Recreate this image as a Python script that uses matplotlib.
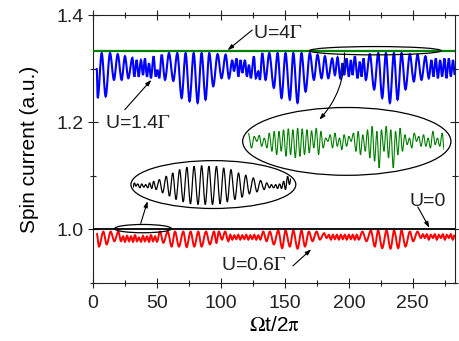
import matplotlib
matplotlib.use("Agg")
import matplotlib.pyplot as plt
from matplotlib.patches import Ellipse, PathPatch
from matplotlib.path import Path
from matplotlib.ticker import MultipleLocator

plt.rcParams['font.family'] = ['Liberation Sans', 'DejaVu Sans']
plt.rcParams['mathtext.fontset'] = 'stix'

# U=1.4 Gamma (blue): turning points
blue_t = [2.9, 3.7, 6.8, 9.9, 13.3, 16.4, 19.3, 22.4, 25.0, 27.6, 30.8, 32.3, 34.1, 35.7,
          37.5, 39.1, 40.6, 42.2, 43.8, 45.3, 47.4, 49.0, 50.3, 51.8, 53.7, 56.3, 59.4,
          62.8, 65.9, 69.3, 72.4, 75.5, 78.7, 81.8, 84.9, 88.0, 90.9, 94.0, 97.4, 100.5,
          103.7, 106.3, 108.9, 110.2, 112.3, 113.6, 115.4, 116.7, 118.8, 120.3, 121.9,
          123.4, 125.8, 127.3, 129.2, 130.5, 132.3, 134.9, 137.8, 141.4, 144.3, 147.4,
          150.5, 153.9, 156.6, 159.9, 163.0, 166.2, 169.5, 172.7, 175.5, 178.7, 181.3,
          183.9, 187.0, 189.1, 191.2, 193.3, 195.1, 196.4, 198.2, 200.0, 201.6, 202.9,
          204.7, 206.8, 208.6, 209.9, 211.5, 213.3, 216.4, 219.8, 223.0, 226.1, 229.0,
          232.1, 235.2, 238.1, 241.2, 244.3, 247.7, 250.8, 253.7, 256.8, 259.9, 262.5,
          264.6, 266.1, 268.0, 269.6, 271.4, 272.9, 274.8, 276.3, 278.2, 279.7, 281.5, 282.8]
blue_y = [1.301, 1.245, 1.329, 1.248, 1.329, 1.279, 1.327, 1.279, 1.323, 1.282, 1.320,
          1.285, 1.316, 1.285, 1.316, 1.288, 1.319, 1.285, 1.310, 1.282, 1.323, 1.285,
          1.298, 1.282, 1.326, 1.279, 1.329, 1.277, 1.329, 1.245, 1.329, 1.239, 1.329,
          1.236, 1.329, 1.242, 1.329, 1.267, 1.327, 1.282, 1.326, 1.282, 1.316, 1.295,
          1.319, 1.285, 1.316, 1.292, 1.316, 1.285, 1.307, 1.282, 1.323, 1.282, 1.295,
          1.279, 1.329, 1.279, 1.329, 1.264, 1.329, 1.245, 1.329, 1.242, 1.329, 1.236,
          1.329, 1.257, 1.329, 1.279, 1.326, 1.282, 1.323, 1.282, 1.319, 1.288, 1.321,
          1.282, 1.310, 1.288, 1.319, 1.285, 1.316, 1.288, 1.323, 1.282, 1.313, 1.285,
          1.319, 1.279, 1.327, 1.261, 1.329, 1.245, 1.329, 1.236, 1.329, 1.242, 1.329,
          1.261, 1.327, 1.276, 1.326, 1.279, 1.323, 1.282, 1.316, 1.285, 1.319, 1.282,
          1.316, 1.285, 1.319, 1.282, 1.319, 1.285, 1.316, 1.288]

# U=0.6 Gamma (red)
red_t = [2.9, 4.7, 8.1, 10.7, 13.8, 16.7, 19.8, 21.9, 23.5, 25.0, 26.6, 28.2, 29.7, 31.3,
         32.8, 34.4, 35.9, 37.5, 39.1, 40.6, 42.2, 43.8, 45.3, 46.9, 48.5, 50.0, 52.4,
         55.0, 58.4, 61.5, 64.1, 67.2, 70.6, 73.2, 76.3, 79.2, 82.3, 84.9, 88.3, 91.4,
         94.6, 96.5, 98.4, 100.8, 103.3, 105.8, 107.3, 108.9, 110.5, 112.0, 113.6, 115.1,
         116.7, 118.3, 119.8, 121.4, 123.0, 124.5, 126.1, 127.6, 129.2, 130.8, 133.1,
         135.7, 138.3, 141.4, 144.8, 147.9, 150.5, 153.9, 156.6, 159.9, 163.0, 165.7,
         168.8, 171.6, 174.8, 177.4, 180.7, 182.6, 184.4, 186.0, 187.6, 189.1, 190.7,
         192.2, 193.8, 195.3, 196.9, 198.4, 200.0, 201.6, 203.1, 204.7, 206.2, 207.8,
         210.6, 213.8, 217.2, 220.3, 222.9, 226.1, 229.5, 232.6, 235.4, 238.6, 241.2,
         244.3, 247.7, 250.3, 253.7, 256.3, 257.9, 259.4, 261.0, 262.5, 264.1, 265.7,
         267.2, 268.8, 270.4, 271.9, 273.5, 275.1, 276.6, 278.2, 279.7, 281.3, 282.8]
red_y = [0.993, 0.968, 0.996, 0.972, 0.996, 0.978, 0.996, 0.978, 0.987, 0.977, 0.988,
         0.978, 0.987, 0.977, 0.990, 0.978, 0.985, 0.977, 0.988, 0.978, 0.987, 0.977,
         0.990, 0.978, 0.987, 0.977, 0.996, 0.975, 0.996, 0.968, 0.996, 0.968, 0.996,
         0.967, 0.996, 0.968, 0.996, 0.968, 0.996, 0.972, 0.996, 0.975, 0.996, 0.981,
         0.996, 0.978, 0.990, 0.981, 0.989, 0.982, 0.990, 0.981, 0.989, 0.982, 0.990,
         0.981, 0.989, 0.982, 0.990, 0.981, 0.989, 0.981, 0.996, 0.978, 0.996, 0.972,
         0.998, 0.965, 0.998, 0.968, 0.998, 0.964, 0.998, 0.968, 0.996, 0.978, 0.996,
         0.981, 0.993, 0.984, 0.990, 0.981, 0.990, 0.982, 0.990, 0.981, 0.990, 0.982,
         0.990, 0.981, 0.990, 0.982, 0.990, 0.981, 0.990, 0.981, 0.996, 0.978, 0.998,
         0.968, 0.998, 0.965, 0.998, 0.964, 0.998, 0.965, 0.998, 0.968, 0.996, 0.978,
         0.996, 0.984, 0.991, 0.984, 0.991, 0.981, 0.990, 0.984, 0.991, 0.981, 0.990,
         0.984, 0.991, 0.981, 0.990, 0.984, 0.991, 0.981, 0.990]

# U=0 (black) and U=4 Gamma (green) are flat
t_span = [0, 283]
u0_level = 1.0
u4_level = 1.3333

# magnified pieces shown in the big ellipses (deviation, arb. units)
green_zoom_t = [169.3, 171.0, 172.4, 173.8, 175.1, 176.3, 177.7, 179.1, 180.3, 181.7, 182.9,
                184.2, 185.4, 186.6, 187.8, 189.1, 190.3, 191.5, 192.7, 194.0, 195.2, 196.4,
                197.6, 198.8, 200.1, 201.3, 202.5, 203.7, 205.0, 206.2, 207.4, 208.6, 209.9,
                211.1, 212.3, 213.5, 214.8, 216.0, 217.2, 218.4, 219.6, 220.9, 222.1, 223.3,
                224.5, 225.8, 227.0, 228.2, 229.4, 230.7, 231.9, 233.1, 234.3, 235.6, 236.8,
                238.0, 239.2, 240.5, 241.7, 242.9, 244.1, 245.4, 246.6, 247.8, 249.0, 250.2,
                251.5, 252.7, 253.9, 255.1, 256.4, 257.6, 258.8, 260.0, 261.3, 262.5, 263.7,
                264.9, 266.2, 267.4, 268.6, 269.8, 271.1, 272.1]
green_zoom_y = [4.5, 0.0, 3.5, 2.0, 3.8, 0.5, 3.0, 0.0, 4.5, -1.0, 5.0, -2.0, 5.0, -1.0, 5.5,
                -2.5, 5.8, -2.0, 5.5, -3.0, 6.0, -2.5, 5.8, -2.0, 5.5, -1.5, 5.2, 0.0, 6.0,
                -2.0, 5.0, 0.0, 3.0, 2.0, 4.0, 0.0, 4.5, 0.5, 3.0, -0.5, 4.0, 0.5, 3.5, 2.0,
                4.5, -1.0, 5.0, -2.0, 4.0, -1.0, 5.5, -3.0, 6.5, -4.0, 5.0, -6.0, 5.5, -1.0,
                6.5, -3.0, 5.5, -6.0, 5.0, -2.0, 6.0, -1.0, 4.0, 1.0, 3.0, 0.0, 4.5, 2.0,
                3.5, 0.5, 4.0, 0.5, 3.0, 0.0, 5.0, 1.0, 3.0, 0.5, 4.5, -0.5]
black_zoom_t = [17.0, 17.5, 17.9, 18.4, 19.0, 19.5, 20.1, 20.6, 21.2, 21.7, 22.3, 22.8, 23.5,
                24.4, 25.3, 26.3, 27.2, 28.1, 29.0, 30.0, 31.0, 32.0, 33.0, 34.0, 35.1, 36.1,
                37.1, 38.1, 39.1, 40.2, 41.2, 42.2, 43.2, 44.2, 45.3, 46.3, 47.3, 48.3, 49.3,
                50.4, 51.4, 52.4, 53.4, 54.1, 54.9, 55.4, 56.0, 56.6, 57.1, 57.7, 58.2, 58.8,
                59.3, 59.9, 60.4, 60.8]
black_zoom_y = [-0.7, 0.8, -0.2, 0.5, -0.7, 0.5, -0.5, 0.3, -0.7, 0.8, -0.9, 1.3, -1.2, 1.8,
                -2.2, 2.8, -3.2, 3.8, -4.2, 4.8, -4.9, 5.5, -5.5, 5.8, -5.7, 6.0, -5.7, 5.8,
                -5.7, 5.8, -5.5, 5.3, -4.9, 4.8, -4.2, 3.8, -3.5, 3.1, -2.5, 2.3, -1.9, 1.5,
                -1.2, 0.8, -0.7, 0.3, -0.7, 0.3, -0.9, 0.5, -0.9, 1.3, -1.2, 2.8, 0.3, 2.1]


def wave(t, y):
    # rounded curve through the turning points (flat tangent at each one)
    verts = [(t[0], y[0])]
    codes = [Path.MOVETO]
    for i in range(1, len(t)):
        d = (t[i] - t[i - 1]) / 3
        verts += [(t[i - 1] + d, y[i - 1]), (t[i] - d, y[i]), (t[i], y[i])]
        codes += [Path.CURVE4] * 3
    return Path(verts, codes)


fig = plt.figure(figsize=(4.59, 3.41), dpi=100)
ax = fig.add_axes([0.2026, 0.170, 0.7887, 0.786])

ax.add_patch(PathPatch(wave(red_t, red_y), fill=False, ec='#ff0000', lw=1.4, zorder=2))
ax.plot(t_span, [u0_level, u0_level], color='black', lw=1.3, zorder=3)
ax.add_patch(PathPatch(wave(blue_t, blue_y), fill=False, ec='#0000ff', lw=1.5, zorder=2))
ax.plot(t_span, [u4_level, u4_level], color='#008000', lw=1.6, zorder=3)

ax.set_xlim(0, 283)
ax.set_ylim(0.9, 1.4)
ax.set_xticks([0, 50, 100, 150, 200, 250])
ax.xaxis.set_minor_locator(MultipleLocator(25))
ax.set_yticks([1.0, 1.2, 1.4])
ax.yaxis.set_minor_locator(MultipleLocator(0.1))
ax.tick_params(which='both', direction='inout', top=True, right=True,
               labelsize=14, colors='#222222')
ax.tick_params(which='major', length=7, width=0.8)
ax.tick_params(axis='x', which='major', pad=5)
ax.tick_params(axis='y', which='major', pad=3)
ax.tick_params(which='minor', length=4, width=0.8)
for s in ax.spines.values():
    s.set_linewidth(0.8)
    s.set_color('#222222')
ax.set_xlabel(r'$\Omega$t/2$\mathrm{\pi}$', fontsize=15, labelpad=3)
ax.set_ylabel('Spin current (a.u.)', fontsize=15, labelpad=13)

# ellipses marking the magnified parts
for cx, cy, w, h in [(198.4, 1.1642, 162.8, 0.1265), (94.1, 1.0837, 128.9, 0.0893),
                     (220.7, 1.3334, 102.9, 0.0155), (39.1, 1.0015, 44.3, 0.0155)]:
    ax.add_patch(Ellipse((cx, cy), w, h, fill=False, ec='black', lw=0.9, zorder=4))

ins_g = ax.inset_axes([121.4, 1.1116, 153.1, 0.0837], transform=ax.transData)
ins_g.add_patch(PathPatch(wave(green_zoom_t, green_zoom_y), fill=False, ec='#008000', lw=0.8))
ins_g.set_xlim(169.3, 272.1)
ins_g.set_ylim(-6.5, 7.0)
ins_g.axis('off')

ins_k = ax.inset_axes([31.0, 1.0434, 123.7, 0.0775], transform=ax.transData)
ins_k.add_patch(PathPatch(wave(black_zoom_t, black_zoom_y), fill=False, ec='black', lw=0.9))
ins_k.set_xlim(17.0, 60.8)
ins_k.set_ylim(-6.2, 6.3)
ins_k.axis('off')

# labels and arrows
arrow = dict(arrowstyle='-|>,head_length=0.35,head_width=0.12', color='black',
             lw=0.8, mutation_scale=10, shrinkA=0, shrinkB=0)
ax.text(124.8, 1.3656, r'U=4$\Gamma$', fontsize=14, ha='left', va='center', color='#222222')
ax.text(9.1, 1.1985, r'U=1.4$\Gamma$', fontsize=14, ha='left', va='center', color='#222222')
ax.text(247.4, 1.052, 'U=0', fontsize=14, ha='left', va='center', color='#222222')
ax.text(100.3, 0.932, r'U=0.6$\Gamma$', fontsize=14, ha='left', va='center', color='#222222')

ax.annotate('', xy=(105.2, 1.3345), xytext=(124.5, 1.372), arrowprops=arrow)
ax.annotate('', xy=(45.6, 1.279), xytext=(24.8, 1.2233), arrowprops=arrow)
ax.annotate('', xy=(263.0, 1.003), xytext=(253.9, 1.042), arrowprops=arrow)
ax.annotate('', xy=(170.6, 0.963), xytext=(156.3, 0.932), arrowprops=arrow)
ax.annotate('', xy=(42.7, 1.0527), xytext=(37.3, 1.0112), arrowprops=arrow)
ax.annotate('', xy=(176.9, 1.2047), xytext=(196.6, 1.3293),
            arrowprops=dict(arrow, connectionstyle='arc3,rad=-0.2'))

fig.savefig('out.png', dpi=100)
